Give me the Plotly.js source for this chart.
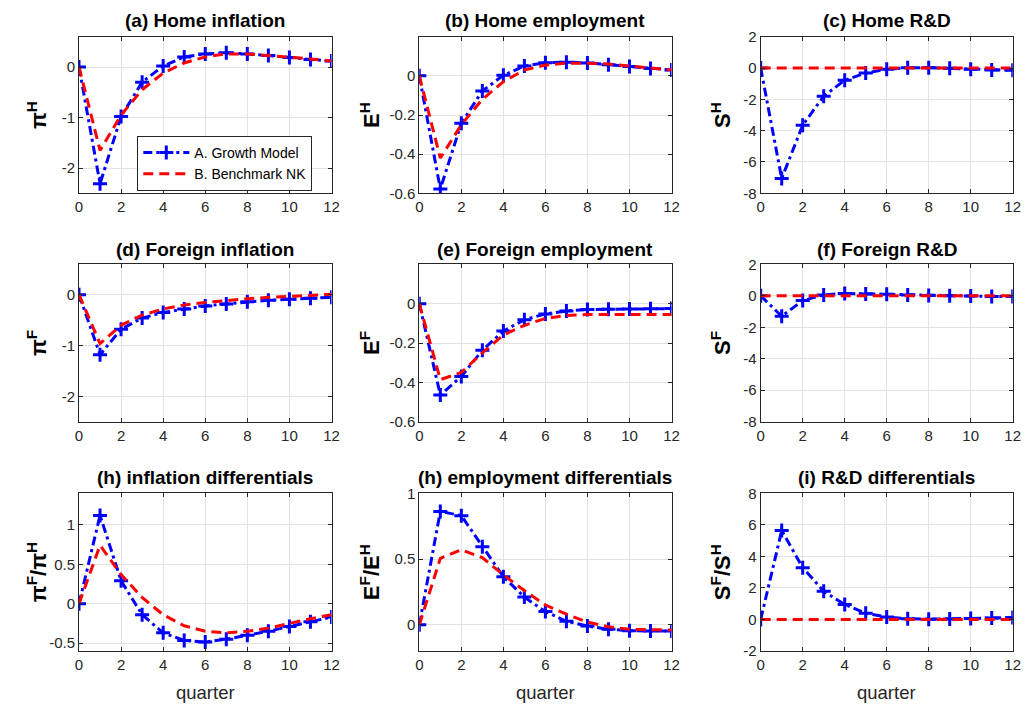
<!DOCTYPE html>
<html>
<head>
<meta charset="utf-8">
<script src="https://cdn.plot.ly/plotly-3.0.1.min.js"></script>
<style>html,body{margin:0;padding:0;background:#fff;}#chart{width:1029px;height:709px;}</style>
</head>
<body>
<div id="chart"></div>
<script>
// ---------- data ----------
const quarters = [0,1,2,3,4,5,6,7,8,9,10,11,12];

const homeInflA = [0,-2.31,-0.98,-0.30,0.02,0.20,0.26,0.28,0.26,0.23,0.19,0.15,0.12];
const homeInflB = [0,-1.65,-0.95,-0.45,-0.12,0.08,0.20,0.26,0.26,0.23,0.20,0.16,0.12];

const homeEmpA = [0,-0.578,-0.242,-0.077,0.003,0.05,0.067,0.07,0.066,0.057,0.048,0.038,0.03];
const homeEmpB = [0,-0.42,-0.25,-0.12,-0.03,0.03,0.055,0.065,0.065,0.06,0.05,0.04,0.03];

const homeRDA = [0,-7.05,-3.65,-1.8,-0.78,-0.32,-0.08,0.02,0.02,-0.02,-0.08,-0.12,-0.15];
const homeRDB = [0,0,0,0,0,0,0,0,0,0,0,0,0];

const forInflA = [0,-1.18,-0.68,-0.46,-0.35,-0.28,-0.22,-0.18,-0.14,-0.11,-0.09,-0.07,-0.05];
const forInflB = [0,-0.96,-0.60,-0.40,-0.28,-0.20,-0.15,-0.11,-0.08,-0.05,-0.03,-0.01,0.01];

const forEmpA = [0,-0.464,-0.37,-0.237,-0.139,-0.082,-0.052,-0.037,-0.03,-0.028,-0.027,-0.026,-0.025];
const forEmpB = [0,-0.386,-0.35,-0.25,-0.16,-0.11,-0.075,-0.06,-0.055,-0.055,-0.055,-0.055,-0.055];

const forRDA = [0,-1.3,-0.3,0.05,0.15,0.12,0.10,0.05,0.02,0.0,-0.02,-0.04,-0.05];
const forRDB = [0,0,0,0,0,0,0,0,0,0,0,0,0];

const inflDiffA = [0,1.12,0.29,-0.14,-0.37,-0.466,-0.487,-0.45,-0.40,-0.35,-0.29,-0.23,-0.17];
const inflDiffB = [0,0.74,0.37,0.08,-0.14,-0.28,-0.35,-0.37,-0.35,-0.31,-0.25,-0.19,-0.14];

const empDiffA = [0,0.862,0.83,0.594,0.365,0.21,0.10,0.026,-0.01,-0.035,-0.045,-0.048,-0.048];
const empDiffB = [0,0.505,0.57,0.51,0.38,0.26,0.15,0.08,0.02,-0.015,-0.035,-0.04,-0.04];

const rdDiffA = [0,5.64,3.28,1.79,0.95,0.40,0.15,0.05,0.02,0.03,0.06,0.09,0.12];
const rdDiffB = [0,0,0,0,0,0,0,0,0,0,0,0,0];

const seriesNames = ['A. Growth Model','B. Benchmark NK'];
const panelTitles = ['(a) Home inflation','(b) Home employment','(c) Home R&amp;D',
  '(d) Foreign inflation','(e) Foreign employment','(f) Foreign R&amp;D',
  '(h) inflation differentials','(h) employment differentials','(i) R&amp;D differentials'];
const yLabels = ['π<sup>H</sup>','E<sup>H</sup>','S<sup>H</sup>',
  'π<sup>F</sup>','E<sup>F</sup>','S<sup>F</sup>',
  'π<sup>F</sup>/π<sup>H</sup>','E<sup>F</sup>/E<sup>H</sup>','S<sup>F</sup>/S<sup>H</sup>'];
const xTickVals = [0,2,4,6,8,10,12];
const xTickText = ['0','2','4','6','8','10','12'];
const yTickVals = [
  [-2,-1,0],[-0.6,-0.4,-0.2,0],[-8,-6,-4,-2,0,2],
  [-2,-1,0],[-0.6,-0.4,-0.2,0],[-8,-6,-4,-2,0,2],
  [-0.5,0,0.5,1],[0,0.5,1],[-2,0,2,4,6,8]];
const yTickText = [
  ['-2','-1','0'],['-0.6','-0.4','-0.2','0'],['-8','-6','-4','-2','0','2'],
  ['-2','-1','0'],['-0.6','-0.4','-0.2','0'],['-8','-6','-4','-2','0','2'],
  ['-0.5','0','0.5','1'],['0','0.5','1'],['-2','0','2','4','6','8']];
const yRanges = [[-2.5,0.6],[-0.6,0.2],[-8,2],[-2.5,0.6],[-0.6,0.2],[-8,2],[-0.6,1.4],[-0.2,1],[-2,8]];
const xAxisLabel = 'quarter';

const panelA = [homeInflA,homeEmpA,homeRDA,forInflA,forEmpA,forRDA,inflDiffA,empDiffA,rdDiffA];
const panelB = [homeInflB,homeEmpB,homeRDB,forInflB,forEmpB,forRDB,inflDiffB,empDiffB,rdDiffB];

// ---------- layout geometry (pixels) ----------
const W = 1029, H = 709;
const colPx = [[79,331.5],[419.3,671.5],[760.7,1012.7]];
const rowPx = [[36.7,193.3],[264.3,421.7],[493.3,651]];
const titleY = [21,249,478];
const yLabX = [37,370,721];
const px2x = p => p / W;
const py2y = p => 1 - p / H;

const axisColor = '#262626';
const gridColor = '#e3e3e3';
const blue = '#0000FF', red = '#FF0000';

const data = [];
const layout = {
  width: W, height: H,
  margin: {l:0,r:0,t:0,b:0},
  paper_bgcolor: '#fff', plot_bgcolor: '#fff',
  font: {family: 'Liberation Sans, Arial, sans-serif', color: axisColor, size: 15},
  showlegend: true,
  legend: {
    x: px2x(137.3), y: py2y(136), xanchor: 'left', yanchor: 'top',
    bgcolor: '#fff', bordercolor: axisColor, borderwidth: 1,
    font: {size: 14, color: '#000'}, itemwidth: 46, tracegroupgap: 0,
    itemclick: false
  },
  annotations: []
};

for (let i = 0; i < 9; i++) {
  const r = Math.floor(i / 3), c = i % 3;
  const k = i === 0 ? '' : String(i + 1);
  const xa = 'x' + k, ya = 'y' + k;
  data.push({
    x: quarters, y: panelA[i], xaxis: xa, yaxis: ya, type: 'scatter', mode: 'lines+markers',
    name: seriesNames[0], showlegend: i === 0, legendgroup: 'A',
    line: {color: blue, width: 3, dash: '9px,4px,3px,4px'},
    marker: {symbol: 'cross-thin', size: 10, color: blue, line: {color: blue, width: 3}}
  });
  data.push({
    x: quarters, y: panelB[i], xaxis: xa, yaxis: ya, type: 'scatter', mode: 'lines',
    name: seriesNames[1], showlegend: i === 0, legendgroup: 'B',
    line: {color: red, width: 3, dash: '10px,6px'}
  });
  const common = {
    showline: true, linecolor: axisColor, linewidth: 1, mirror: 'ticks',
    ticks: 'inside', ticklen: 4, tickcolor: axisColor,
    showgrid: true, gridcolor: gridColor, gridwidth: 1, zeroline: false,
    tickfont: {size: 15, color: axisColor}, fixedrange: true
  };
  layout['xaxis' + k] = Object.assign({}, common, {
    domain: [px2x(colPx[c][0]), px2x(colPx[c][1])], anchor: ya,
    range: [0, 12], tickmode: 'array', tickvals: xTickVals, ticktext: xTickText
  });
  layout['yaxis' + k] = Object.assign({}, common, {
    domain: [py2y(rowPx[r][1]), py2y(rowPx[r][0])], anchor: xa,
    range: yRanges[i], tickmode: 'array', tickvals: yTickVals[i], ticktext: yTickText[i]
  });
  layout.annotations.push({
    xref: 'paper', yref: 'paper', x: px2x((colPx[c][0] + colPx[c][1]) / 2), y: py2y(titleY[r]),
    xanchor: 'center', yanchor: 'middle', showarrow: false,
    text: '<b>' + panelTitles[i] + '</b>', font: {size: 19, color: '#000'}
  });
  layout.annotations.push({
    xref: 'paper', yref: 'paper', x: px2x(yLabX[c]), y: py2y((rowPx[r][0] + rowPx[r][1]) / 2),
    xanchor: 'center', yanchor: 'middle', showarrow: false, textangle: -90,
    text: '<b>' + yLabels[i] + '</b>', font: {size: 22, color: '#000'}
  });
  if (r === 2) {
    layout.annotations.push({
      xref: 'paper', yref: 'paper', x: px2x((colPx[c][0] + colPx[c][1]) / 2), y: py2y(692),
      xanchor: 'center', yanchor: 'middle', showarrow: false,
      text: xAxisLabel, font: {size: 18.5, color: axisColor}
    });
  }
}

Plotly.newPlot('chart', data, layout, {displayModeBar: false, staticPlot: true});
</script>
</body>
</html>
